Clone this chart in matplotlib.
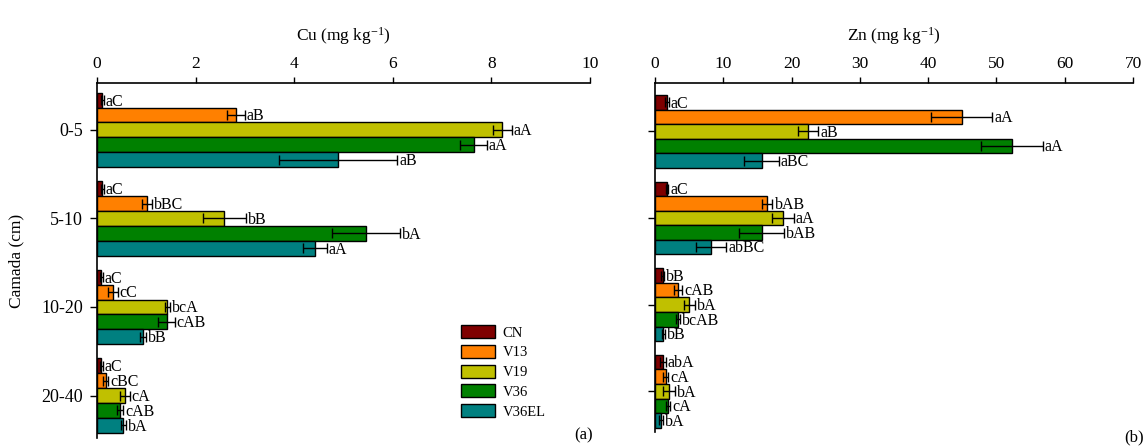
import matplotlib
matplotlib.use("Agg")
import matplotlib.pyplot as plt
from matplotlib.patches import Patch
import numpy as np

plt.rcParams['font.family'] = ['Liberation Serif', 'DejaVu Serif']
plt.rcParams['mathtext.fontset'] = 'custom'
plt.rcParams['mathtext.rm'] = 'Liberation Serif'
plt.rcParams['mathtext.it'] = 'Liberation Serif:italic'

layers = ["0-5", "5-10", "10-20", "20-40"]
treatments = ["CN", "V13", "V19", "V36", "V36EL"]
colors = ["#7f0000", "#ff8000", "#c0c000", "#008000", "#008080"]

# Cu values [treatment][layer]
cu_vals = [
    [0.11, 0.11, 0.09, 0.09],
    [2.82, 1.01, 0.32, 0.18],
    [8.22, 2.58, 1.43, 0.56],
    [7.64, 5.45, 1.41, 0.47],
    [4.89, 4.42, 0.93, 0.53],
]
cu_err = [
    [0.03, 0.03, 0.03, 0.03],
    [0.18, 0.10, 0.10, 0.05],
    [0.19, 0.44, 0.06, 0.10],
    [0.27, 0.69, 0.17, 0.06],
    [1.20, 0.24, 0.06, 0.05],
]
cu_labels = [
    ["aC", "aC", "aC", "aC"],
    ["aB", "bBC", "cC", "cBC"],
    ["aA", "bB", "bcA", "cA"],
    ["aA", "bA", "cAB", "cAB"],
    ["aB", "aA", "bB", "bA"],
]

zn_vals = [
    [1.74, 1.74, 1.1, 1.2],
    [44.9, 16.4, 3.4, 1.56],
    [22.4, 18.7, 5.0, 2.0],
    [52.3, 15.6, 3.4, 1.95],
    [15.6, 8.2, 1.2, 0.85],
]
zn_err = [
    [0.3, 0.2, 0.2, 0.4],
    [4.5, 0.8, 0.6, 0.4],
    [1.5, 1.6, 0.8, 0.9],
    [4.5, 3.3, 0.3, 0.3],
    [2.5, 2.2, 0.2, 0.3],
]
zn_labels = [
    ["aC", "aC", "bB", "abA"],
    ["aA", "bAB", "cAB", "cA"],
    ["aB", "aA", "bA", "bA"],
    ["aA", "bAB", "bcAB", "cA"],
    ["aBC", "abBC", "bB", "bA"],
]

W, H = 1146, 446
fig = plt.figure(figsize=(W / 100, H / 100), dpi=100)
axa = fig.add_axes([97 / W, 1 - 438 / H, (590 - 97) / W, (438 - 83) / H])
axb = fig.add_axes([655 / W, 1 - 432 / H, (1133 - 655) / W, (432 - 83) / H])

bh = 0.168


def draw(ax, vals, errs, labels, xmax, xstep, ylim, pad):
    y = np.arange(len(layers))
    for i, t in enumerate(treatments):
        yy = y + (i - 2) * bh
        ax.barh(yy, vals[i], height=bh, color=colors[i], edgecolor='black',
                linewidth=1.0, zorder=2)
        ax.errorbar(vals[i], yy, xerr=errs[i], fmt='none', ecolor='black',
                    elinewidth=1.0, capsize=3.5, capthick=1.0, zorder=3)
        for j in range(len(layers)):
            ax.text(vals[i][j] + errs[i][j] + pad, yy[j] + 0.015, labels[i][j],
                    ha='left', va='center', fontsize=11.5)
    ax.set_xlim(0, xmax)
    ax.set_xticks(np.arange(0, xmax + 0.001, xstep))
    ax.set_ylim(*ylim)
    ax.set_yticks(y)
    ax.xaxis.tick_top()
    ax.xaxis.set_label_position('top')
    for s in ['right', 'bottom']:
        ax.spines[s].set_visible(False)
    for s in ['left', 'top']:
        ax.spines[s].set_linewidth(1.2)
    ax.tick_params(axis='x', direction='out', length=4, width=1.0, pad=4,
                   labelsize=12.5)
    ax.tick_params(axis='y', direction='out', length=5, width=1.0, pad=5,
                   labelsize=13)


draw(axa, cu_vals, cu_err, cu_labels, 10, 2, (3.48, -0.53), 0.04)
draw(axb, zn_vals, zn_err, zn_labels, 70, 10, (3.47, -0.56), 0.3)

axa.set_yticklabels(layers)
axb.set_yticklabels([])
axa.set_xlabel('Cu (mg kg$^{-1}$)', fontsize=12.5, labelpad=11)
axb.set_xlabel('Zn (mg kg$^{-1}$)', fontsize=12.5, labelpad=11)
axa.set_ylabel('Camada (cm)', fontsize=12.5)
axa.yaxis.set_label_coords(-(97 - 24) / (590 - 97), 0.5)

fig.text(593 / W, 1 - 435 / H, '(a)', ha='right', va='center', fontsize=12)
fig.text(1144 / W, 1 - 437 / H, '(b)', ha='right', va='center', fontsize=12)

handles = [Patch(facecolor=c, edgecolor='black', linewidth=1.0) for c in colors]
axa.legend(handles, treatments, loc='upper left',
           bbox_to_anchor=(461 / W, 1 - 325 / H), bbox_transform=fig.transFigure,
           frameon=False, fontsize=10.5, borderpad=0, borderaxespad=0,
           handlelength=2.3, handleheight=1.0, labelspacing=0.36,
           handletextpad=0.55)

fig.savefig('out.png', dpi=100)
